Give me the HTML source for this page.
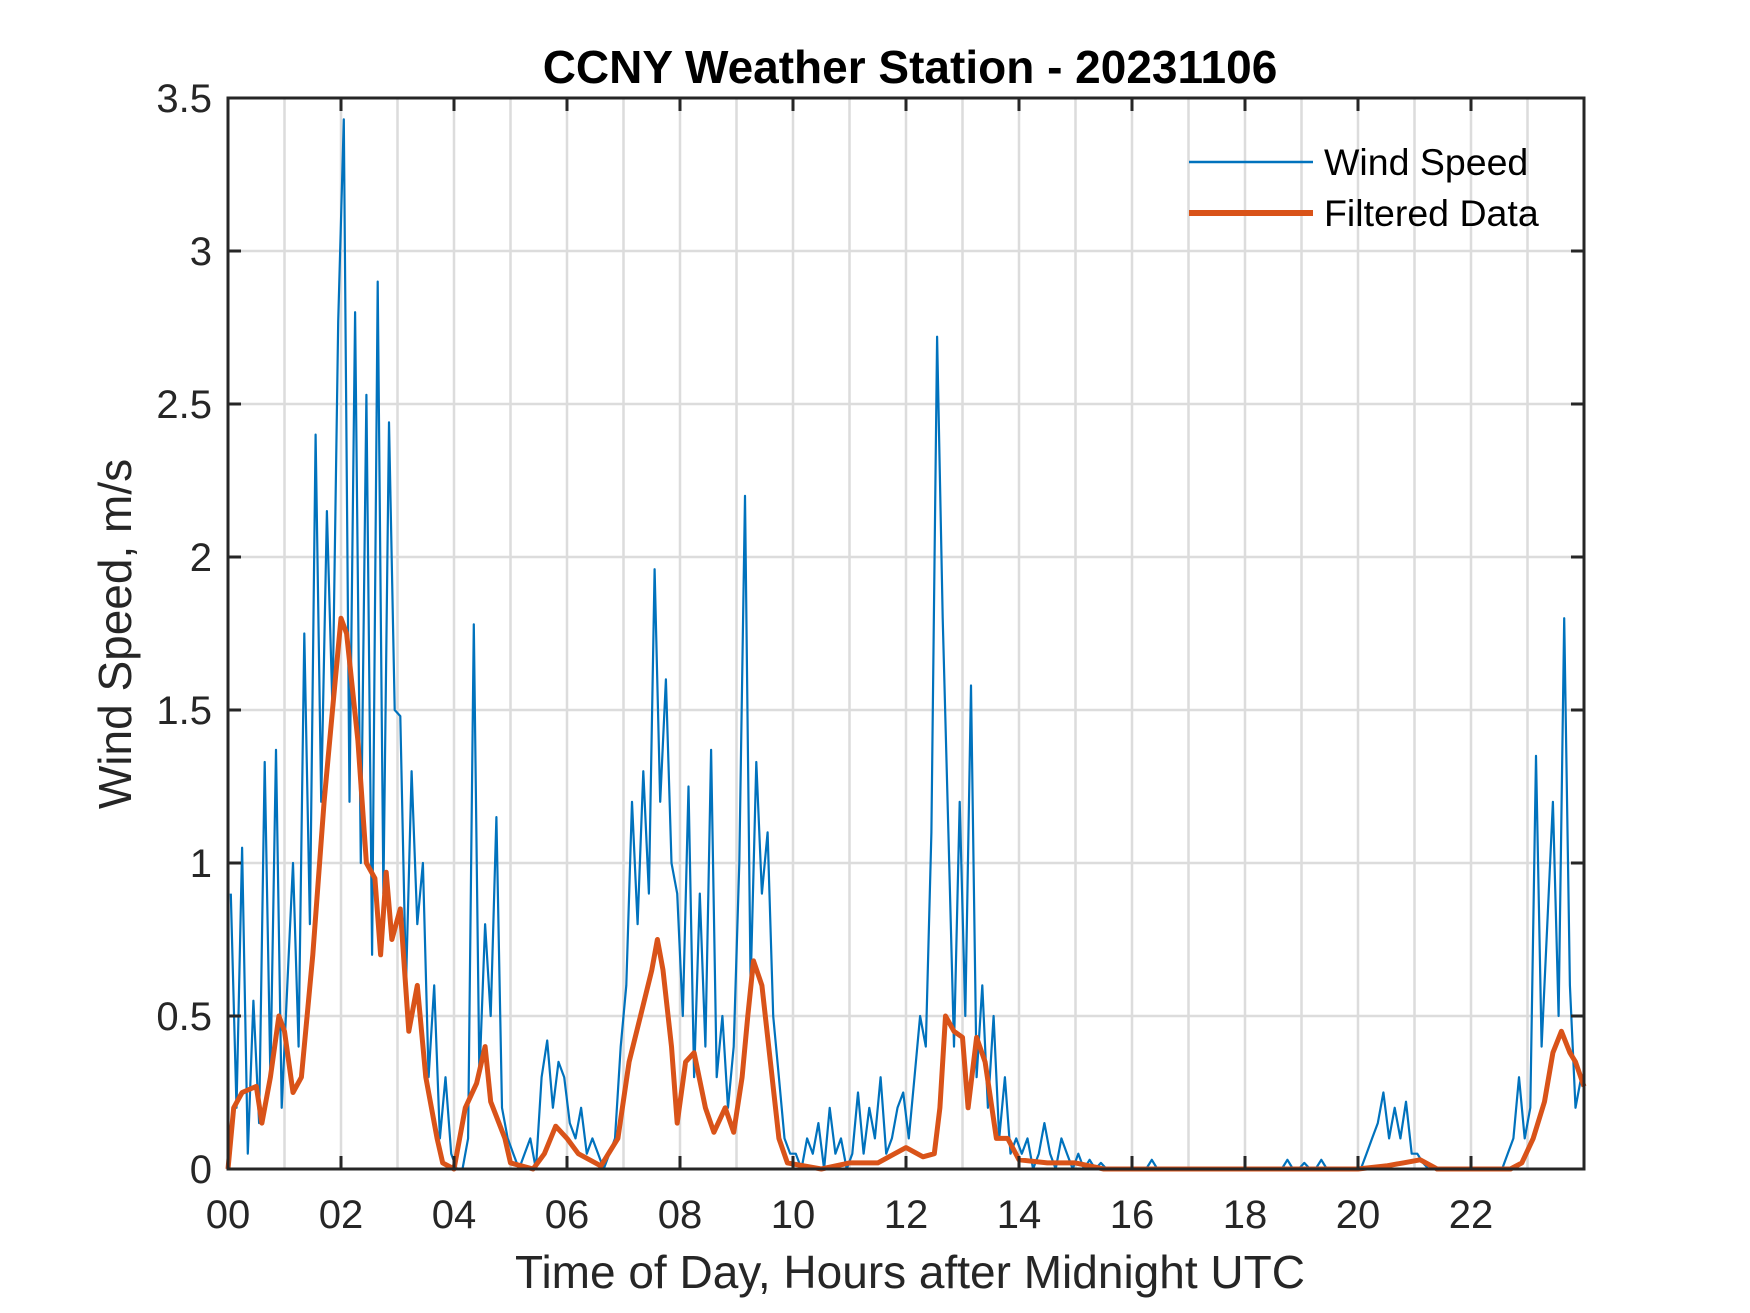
<!DOCTYPE html>
<html><head><meta charset="utf-8"><style>
html,body{margin:0;padding:0;background:#fff;}
svg{display:block;font-family:"Liberation Sans",Arial,sans-serif;}
</style></head><body>
<svg id="chart" width="1750" height="1313" viewBox="0 0 1750 1313">
<rect x="0" y="0" width="1750" height="1313" fill="#fff"/>
<g id="grid"></g>
<g id="series"></g>
<g id="axes"></g>
</svg>
<script>
const hourTicks = [0,2,4,6,8,10,12,14,16,18,20,22];
const hourTickLabels = ["00","02","04","06","08","10","12","14","16","18","20","22"];
const yTicks = [0,0.5,1,1.5,2,2.5,3,3.5];
const yTickLabels = ["0","0.5","1","1.5","2","2.5","3","3.5"];
// raw wind speed, 10 samples per hour
const windSpeed = [
0.9,0.2,1.05,0.05,0.55,0.15,1.33,0.3,1.37,0.2,
0.6,1.0,0.4,1.75,0.8,2.4,1.2,2.15,1.5,2.77,
3.43,1.2,2.8,1.0,2.53,0.7,2.9,0.9,2.44,1.5,
1.48,0.6,1.3,0.8,1.0,0.3,0.6,0.1,0.3,0.05,
0.0,0.0,0.1,1.78,0.3,0.8,0.5,1.15,0.2,0.1,
0.05,0.0,0.05,0.1,0.0,0.3,0.42,0.2,0.35,0.3,
0.15,0.1,0.2,0.05,0.1,0.05,0.0,0.05,0.1,0.4,
0.6,1.2,0.8,1.3,0.9,1.96,1.2,1.6,1.0,0.9,
0.5,1.25,0.3,0.9,0.4,1.37,0.3,0.5,0.2,0.4,
1.0,2.2,0.6,1.33,0.9,1.1,0.5,0.3,0.1,0.05,
0.05,0.0,0.1,0.05,0.15,0.0,0.2,0.05,0.1,0.0,
0.05,0.25,0.05,0.2,0.1,0.3,0.05,0.1,0.2,0.25,
0.1,0.3,0.5,0.4,1.1,2.72,1.8,1.1,0.4,1.2,
0.5,1.58,0.3,0.6,0.2,0.5,0.1,0.3,0.05,0.1,
0.05,0.1,0.0,0.05,0.15,0.05,0.0,0.1,0.05,0.0,
0.05,0.0,0.03,0.0,0.02,0.0,0.0,0.0,0.0,0.0,
0.0,0.0,0.0,0.03,0.0,0.0,0.0,0.0,0.0,0.0,
0.0,0.0,0.0,0.0,0.0,0.0,0.0,0.0,0.0,0.0,
0.0,0.0,0.0,0.0,0.0,0.0,0.0,0.03,0.0,0.0,
0.02,0.0,0.0,0.03,0.0,0.0,0.0,0.0,0.0,0.0,
0.0,0.05,0.1,0.15,0.25,0.1,0.2,0.1,0.22,0.05,
0.05,0.02,0.0,0.0,0.0,0.0,0.0,0.0,0.0,0.0,
0.0,0.0,0.0,0.0,0.0,0.0,0.05,0.1,0.3,0.1,
0.2,1.35,0.4,0.8,1.2,0.5,1.8,0.6,0.2,0.3
];
const filteredHours = [0,0.1,0.25,0.5,0.6,0.75,0.9,1.0,1.15,1.3,1.5,1.7,1.85,2.0,2.1,2.3,2.45,2.6,2.7,2.8,2.9,3.05,3.2,3.35,3.5,3.7,3.8,4.0,4.2,4.4,4.55,4.65,4.9,5.0,5.4,5.6,5.8,6.0,6.2,6.6,6.9,7.1,7.3,7.5,7.6,7.7,7.85,7.95,8.1,8.25,8.45,8.6,8.8,8.95,9.1,9.2,9.3,9.45,9.6,9.75,9.9,10.5,11.0,11.5,11.8,12.0,12.3,12.5,12.6,12.7,12.85,13.0,13.1,13.25,13.4,13.6,13.8,14.0,14.5,15.0,15.5,20.0,20.5,20.8,21.1,21.4,22.7,22.9,23.1,23.3,23.45,23.6,23.75,23.85,24];
const filteredValues = [0.0,0.2,0.25,0.27,0.15,0.3,0.5,0.45,0.25,0.3,0.7,1.2,1.5,1.8,1.75,1.4,1.0,0.95,0.7,0.97,0.75,0.85,0.45,0.6,0.3,0.1,0.02,0.0,0.2,0.28,0.4,0.22,0.1,0.02,0.0,0.05,0.14,0.1,0.05,0.01,0.1,0.35,0.5,0.65,0.75,0.65,0.4,0.15,0.35,0.38,0.2,0.12,0.2,0.12,0.3,0.5,0.68,0.6,0.35,0.1,0.02,0.0,0.02,0.02,0.05,0.07,0.04,0.05,0.2,0.5,0.45,0.43,0.2,0.43,0.35,0.1,0.1,0.03,0.02,0.02,0.0,0.0,0.01,0.02,0.03,0.0,0.0,0.02,0.1,0.22,0.38,0.45,0.38,0.35,0.27];

const L=228,R=1584,T=98,B=1169;
const xs=h=>L+(h/24)*(R-L);
const ys=v=>B-(v/3.5)*(B-T);
const NS="http://www.w3.org/2000/svg";
function mk(tag,attrs,parent,text){const e=document.createElementNS(NS,tag);for(const k in attrs)e.setAttribute(k,attrs[k]);if(text!==undefined)e.textContent=text;parent.appendChild(e);return e;}
const grid=document.getElementById('grid'),series=document.getElementById('series'),axes=document.getElementById('axes');
for(let h=1;h<24;h++){const g=mk('line',{x1:xs(h),x2:xs(h),y1:T,y2:B,stroke:'#dcdcdc','stroke-width':2.5},grid);

}
for(let i=1;i<yTicks.length-1;i++){const g=mk('line',{x1:L,x2:R,y1:ys(yTicks[i]),y2:ys(yTicks[i]),stroke:'#dcdcdc','stroke-width':2.5},grid);

}
let d='';windSpeed.forEach((v,i)=>{d+=(i?'L':'M')+xs(i/10+0.05).toFixed(1)+','+ys(v).toFixed(1);});
const raw=mk('path',{d:d,fill:'none',stroke:'#0072bd','stroke-width':2.2,'stroke-linejoin':'round'},series);


let d2='';filteredHours.forEach((h,i)=>{d2+=(i?'L':'M')+xs(h).toFixed(1)+','+ys(filteredValues[i]).toFixed(1);});
const filt=mk('path',{d:d2,fill:'none',stroke:'#d95319','stroke-width':5,'stroke-linejoin':'round'},series);


const box=mk('rect',{x:L,y:T,width:R-L,height:B-T,fill:'none',stroke:'#262626','stroke-width':3},axes);


hourTicks.forEach((h,i)=>{
 mk('line',{x1:xs(h),x2:xs(h),y1:B,y2:B-13,stroke:'#262626','stroke-width':3},axes);
 mk('line',{x1:xs(h),x2:xs(h),y1:T,y2:T+13,stroke:'#262626','stroke-width':3},axes);
 const t=mk('text',{x:xs(h),y:1228,'text-anchor':'middle','font-size':40,fill:'#262626'},axes,hourTickLabels[i]);
 
 
});
yTicks.forEach((v,i)=>{
 mk('line',{x1:L,x2:L+13,y1:ys(v),y2:ys(v),stroke:'#262626','stroke-width':3},axes);
 mk('line',{x1:R,x2:R-13,y1:ys(v),y2:ys(v),stroke:'#262626','stroke-width':3},axes);
 const t=mk('text',{x:212,y:ys(v)+14,'text-anchor':'end','font-size':40,fill:'#262626'},axes,yTickLabels[i]);
 
 
});
</script>
<svg style="position:absolute;left:0;top:0" width="1750" height="1313">
<text x="910" y="83" text-anchor="middle" font-size="46" font-weight="bold" fill="#000">CCNY Weather Station - 20231106</text>
<text x="910" y="1288" text-anchor="middle" font-size="46" fill="#262626">Time of Day, Hours after Midnight UTC</text>
<text transform="translate(131,634) rotate(-90)" text-anchor="middle" font-size="46" fill="#262626">Wind Speed, m/s</text>
<g>
<line x1="1189" x2="1313" y1="162" y2="162" stroke="#0072bd" stroke-width="2.5"/>
<text x="1324" y="175" font-size="37.5" fill="#000">Wind Speed</text>
<line x1="1189" x2="1313" y1="213" y2="213" stroke="#d95319" stroke-width="6"/>
<text x="1324" y="226" font-size="37.5" fill="#000">Filtered Data</text>
</g>
</svg>
</body></html>
